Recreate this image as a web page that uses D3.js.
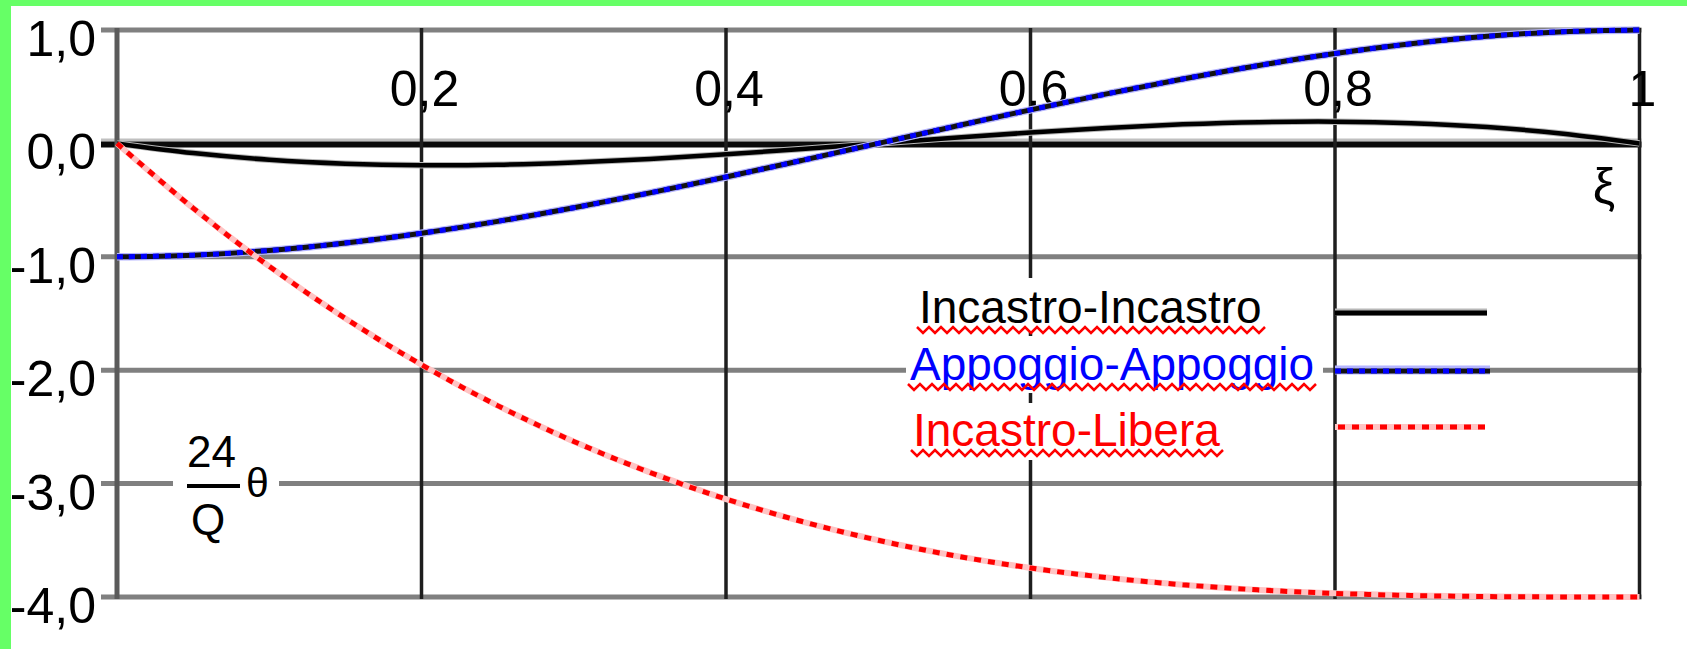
<!DOCTYPE html>
<html>
<head>
<meta charset="utf-8">
<script src="https://cdn.jsdelivr.net/npm/d3@7"></script>
<style>
  html, body { margin: 0; padding: 0; background: #ffffff; }
  svg { display: block; }
  text { font-family: "Liberation Sans", Arial, sans-serif; }
</style>
</head>
<body>
<svg id="chart" width="1687" height="649"></svg>
<script>
// ξ sample positions along the beam
const xi = [0, 0.05, 0.1, 0.15, 0.2, 0.25, 0.3, 0.35, 0.4, 0.45, 0.5,
            0.55, 0.6, 0.65, 0.7, 0.75, 0.8, 0.85, 0.9, 0.95, 1];

// 24θ/Q for each support condition
const incastroIncastro = [0, -0.0855, -0.144, -0.1785, -0.192, -0.1875, -0.168, -0.1365, -0.096, -0.0495, 0,
                          0.0495, 0.096, 0.1365, 0.168, 0.1875, 0.192, 0.1785, 0.144, 0.0855, 0];
const appoggioAppoggio = [-1, -0.9855, -0.944, -0.8785, -0.792, -0.6875, -0.568, -0.4365, -0.296, -0.1495, 0,
                          0.1495, 0.296, 0.4365, 0.568, 0.6875, 0.792, 0.8785, 0.944, 0.9855, 1];
const incastroLibera = [0, -0.5705, -1.084, -1.5435, -1.952, -2.3125, -2.628, -2.9015, -3.136, -3.3345, -3.5,
                        -3.6355, -3.744, -3.8285, -3.892, -3.9375, -3.968, -3.9865, -3.996, -3.9995, -4];

const seriesNames = ["Incastro-Incastro", "Appoggio-Appoggio", "Incastro-Libera"];

const yTicks = [1, 0, -1, -2, -3, -4];
const yTickLabels = ["1,0", "0,0", "-1,0", "-2,0", "-3,0", "-4,0"];
const xTicks = [0.2, 0.4, 0.6, 0.8, 1];
const xTickLabels = ["0,2", "0,4", "0,6", "0,8", "1"];

const svg = d3.select("#chart");
const W = 1687, H = 649;

const x = d3.scaleLinear().domain([0, 1]).range([117, 1639.5]);
const y = d3.scaleLinear().domain([-4, 1]).range([597, 30]);

svg.append("rect").attr("width", W).attr("height", H).attr("fill", "#ffffff");

// horizontal grid lines (zero line heavier, with a light edge above)
const gH = svg.append("g");
gH.append("line").attr("x1", 101).attr("x2", x(1) + 2)
  .attr("y1", y(0) - 3.5).attr("y2", y(0) - 3.5)
  .attr("stroke", "#c0c0c0").attr("stroke-width", 3);
gH.selectAll("line.grid").data(yTicks).join("line")
  .attr("class", "grid")
  .attr("x1", 101).attr("x2", x(1) + 2)
  .attr("y1", d => d === 0 ? y(d) + 1 : y(d)).attr("y2", d => d === 0 ? y(d) + 1 : y(d))
  .attr("stroke", d => d === 0 ? "#0a0a0a" : "#808080")
  .attr("stroke-width", d => d === 0 ? 6 : 5);

// vertical grid lines
const vTicks = [0].concat(xTicks);
svg.append("g").selectAll("line").data(vTicks).join("line")
  .attr("x1", d => x(d)).attr("x2", d => x(d))
  .attr("y1", y(1) - 2).attr("y2", y(-4) + 2)
  .attr("stroke", d => d === 0 ? "#5a5a5a" : "#1e1e1e")
  .attr("stroke-width", d => d === 0 ? 5 : 3.5);

// y tick labels
svg.append("g").selectAll("text").data(yTicks).join("text")
  .attr("x", 96).attr("y", d => y(d) + 26)
  .attr("text-anchor", "end")
  .attr("font-size", 50)
  .attr("fill", "#000")
  .text((d, i) => yTickLabels[i]);

// x tick labels
svg.append("g").selectAll("text").data(xTicks).join("text")
  .attr("x", d => x(d) + 3).attr("y", 106)
  .attr("text-anchor", "middle")
  .attr("font-size", 50)
  .attr("fill", "#000")
  .text((d, i) => xTickLabels[i]);

// ξ axis title
svg.append("text").attr("x", 1604).attr("y", 203)
  .attr("text-anchor", "middle").attr("font-size", 50).attr("fill", "#000")
  .text("ξ");

// y axis title: 24/Q · θ on a white patch
const yt = svg.append("g");
yt.append("rect").attr("x", 173).attr("y", 425).attr("width", 106).attr("height", 122).attr("fill", "#fff");
yt.append("text").attr("x", 211.5).attr("y", 467).attr("text-anchor", "middle")
  .attr("font-size", 44).attr("fill", "#000").text("24");
yt.append("rect").attr("x", 187).attr("y", 484).attr("width", 53).attr("height", 4).attr("fill", "#000");
yt.append("text").attr("x", 208).attr("y", 535).attr("text-anchor", "middle")
  .attr("font-size", 44).attr("fill", "#000").text("Q");
yt.append("text").attr("x", 257.5).attr("y", 497).attr("text-anchor", "middle")
  .attr("font-size", 41).attr("fill", "#000").text("θ");

// curves
const line = d3.line()
  .x(d => x(d[0]))
  .y(d => y(d[1]))
  .curve(d3.curveCatmullRom.alpha(0.5));

const pts = vals => xi.map((v, i) => [v, vals[i]]);
const gC = svg.append("g").attr("fill", "none");

// Incastro-Incastro
gC.append("path").attr("d", line(pts(incastroIncastro)))
  .attr("stroke", "#b8b8b8").attr("stroke-width", 6.5);
gC.append("path").attr("d", line(pts(incastroIncastro)))
  .attr("stroke", "#000").attr("stroke-width", 4.5);

// Appoggio-Appoggio
gC.append("path").attr("d", line(pts(appoggioAppoggio)))
  .attr("stroke", "#b4b4ff").attr("stroke-width", 7.5);
gC.append("path").attr("d", line(pts(appoggioAppoggio)))
  .attr("stroke", "#111").attr("stroke-width", 5);
gC.append("path").attr("d", line(pts(appoggioAppoggio)))
  .attr("stroke", "#0000ff").attr("stroke-width", 5).attr("stroke-dasharray", "6,6");

// Incastro-Libera
gC.append("path").attr("d", line(pts(incastroLibera)))
  .attr("stroke", "#ffc4c4").attr("stroke-width", 6);
gC.append("path").attr("d", line(pts(incastroLibera)))
  .attr("stroke", "#ff0000").attr("stroke-width", 5).attr("stroke-dasharray", "7,7");

// legend
const legendRows = [
  { name: seriesNames[0], tx: 919, base: 323, box: [907, 278, 373, 54], color: "#000000" },
  { name: seriesNames[1], tx: 910, base: 380, box: [906, 336, 417, 57], color: "#0000ff" },
  { name: seriesNames[2], tx: 913, base: 446, box: [906, 403, 330, 57], color: "#ff0000" }
];
const gL = svg.append("g");
legendRows.forEach(r => {
  gL.append("rect").attr("x", r.box[0]).attr("y", r.box[1])
    .attr("width", r.box[2]).attr("height", r.box[3]).attr("fill", "#fff");
  const t = gL.append("text").attr("x", r.tx).attr("y", r.base)
    .attr("font-size", 46).attr("fill", r.color).text(r.name);
  const bb = t.node().getBBox();
  // wavy red underline under each entry
  const x0 = bb.x - 2, x1 = bb.x + bb.width + 4, per = 12, amp = 6;
  const zz = [];
  for (let k = 0, px = x0; px <= x1; k++, px = x0 + k * per / 2) {
    zz.push([px, r.base + 4 + (k % 2 ? amp : 0)]);
  }
  gL.append("path").attr("d", d3.line()(zz))
    .attr("fill", "none").attr("stroke", "#ff0000").attr("stroke-width", 2.5);
});

// legend swatches
const lx0 = 1335, lx1 = 1487;
gL.append("line").attr("x1", lx0).attr("x2", lx1).attr("y1", 312).attr("y2", 312)
  .attr("stroke", "#b8b8b8").attr("stroke-width", 7);
gL.append("line").attr("x1", lx0).attr("x2", lx1).attr("y1", 313).attr("y2", 313)
  .attr("stroke", "#000").attr("stroke-width", 5);
gL.append("line").attr("x1", lx0).attr("x2", lx1 + 3).attr("y1", 370).attr("y2", 370)
  .attr("stroke", "#b4b4ff").attr("stroke-width", 9);
gL.append("line").attr("x1", lx0).attr("x2", lx1 + 3).attr("y1", 371).attr("y2", 371)
  .attr("stroke", "#111").attr("stroke-width", 5);
gL.append("line").attr("x1", lx0).attr("x2", lx1 + 3).attr("y1", 371).attr("y2", 371)
  .attr("stroke", "#0000ff").attr("stroke-width", 5).attr("stroke-dasharray", "6,6");
gL.append("line").attr("x1", lx0).attr("x2", lx1 - 2).attr("y1", 427).attr("y2", 427)
  .attr("stroke", "#ffc4c4").attr("stroke-width", 6);
gL.append("line").attr("x1", lx0 + 3).attr("x2", lx1 - 2).attr("y1", 427).attr("y2", 427)
  .attr("stroke", "#ff0000").attr("stroke-width", 5).attr("stroke-dasharray", "7,7");

// green frame (top and left)
svg.append("rect").attr("x", 0).attr("y", 0).attr("width", W).attr("height", 6).attr("fill", "#66ff66");
svg.append("rect").attr("x", 0).attr("y", 0).attr("width", 11).attr("height", H).attr("fill", "#66ff66");
</script>
</body>
</html>
